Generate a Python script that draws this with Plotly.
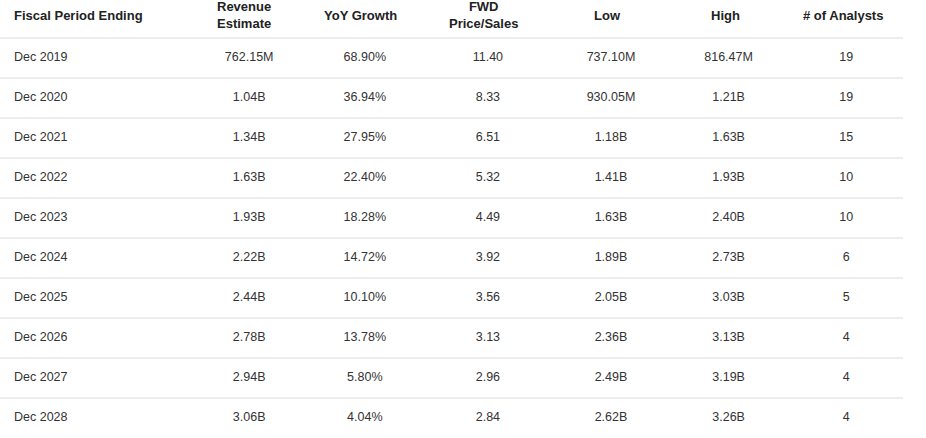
import plotly.graph_objects as go

headers = ["Fiscal Period Ending", "Revenue<br>Estimate", "YoY Growth", "FWD<br>Price/Sales", "Low", "High", "# of Analysts"]
periods = ["Dec 2019","Dec 2020","Dec 2021","Dec 2022","Dec 2023","Dec 2024","Dec 2025","Dec 2026","Dec 2027","Dec 2028"]
revenue = ["762.15M","1.04B","1.34B","1.63B","1.93B","2.22B","2.44B","2.78B","2.94B","3.06B"]
yoy = ["68.90%","36.94%","27.95%","22.40%","18.28%","14.72%","10.10%","13.78%","5.80%","4.04%"]
fwd_ps = ["11.40","8.33","6.51","5.32","4.49","3.92","3.56","3.13","2.96","2.84"]
low = ["737.10M","930.05M","1.18B","1.41B","1.63B","1.89B","2.05B","2.36B","2.49B","2.62B"]
high = ["816.47M","1.21B","1.63B","1.93B","2.40B","2.73B","3.03B","3.13B","3.19B","3.26B"]
analysts = ["19","19","15","10","10","6","5","4","4","4"]

W, H = 926, 438
widths = [188, 112, 120, 127, 120, 116, 120]
font = "Liberation Sans, Arial"
fig = go.Figure(go.Table(
    domain=dict(x=[6 / W, 906 / W], y=[0, 1]),
    columnwidth=widths,
    header=dict(values=[""] * 7, fill_color="white", line_color="rgba(0,0,0,0)", height=44),
    cells=dict(values=[periods, revenue, yoy, fwd_ps, low, high, analysts],
               align=["left"] + ["center"] * 6,
               font=dict(family=font, size=12.5, color="#333"),
               fill_color="white", line_color="rgba(0,0,0,0)", height=40),
))
shapes = []
for i in range(10):
    yp = 38 + 40 * i
    shapes.append(dict(type="line", xref="paper", yref="paper", x0=0, x1=903 / W,
                       y0=1 - yp / H, y1=1 - yp / H, line=dict(color="#dcdcdc", width=1)))
ann = []
left = 0
for i, (h, w) in enumerate(zip(headers, widths)):
    if i == 0:
        x, xa = 12, "left"
    else:
        x, xa = left + w / 2, "center"
    ann.append(dict(text="<b>%s</b>" % h, x=x / W, y=1 - 15 / H, xref="paper", yref="paper",
                    xanchor=xa, yanchor="middle", showarrow=False, align="center",
                    font=dict(family=font, size=13, color="#222")))
    left += w
fig.update_layout(width=W, height=H, margin=dict(l=0, r=0, t=0, b=0),
                  paper_bgcolor="white", shapes=shapes, annotations=ann)
fig.write_html("out.html", config={"displayModeBar": False},
               post_script="document.body.style.margin='0';")
